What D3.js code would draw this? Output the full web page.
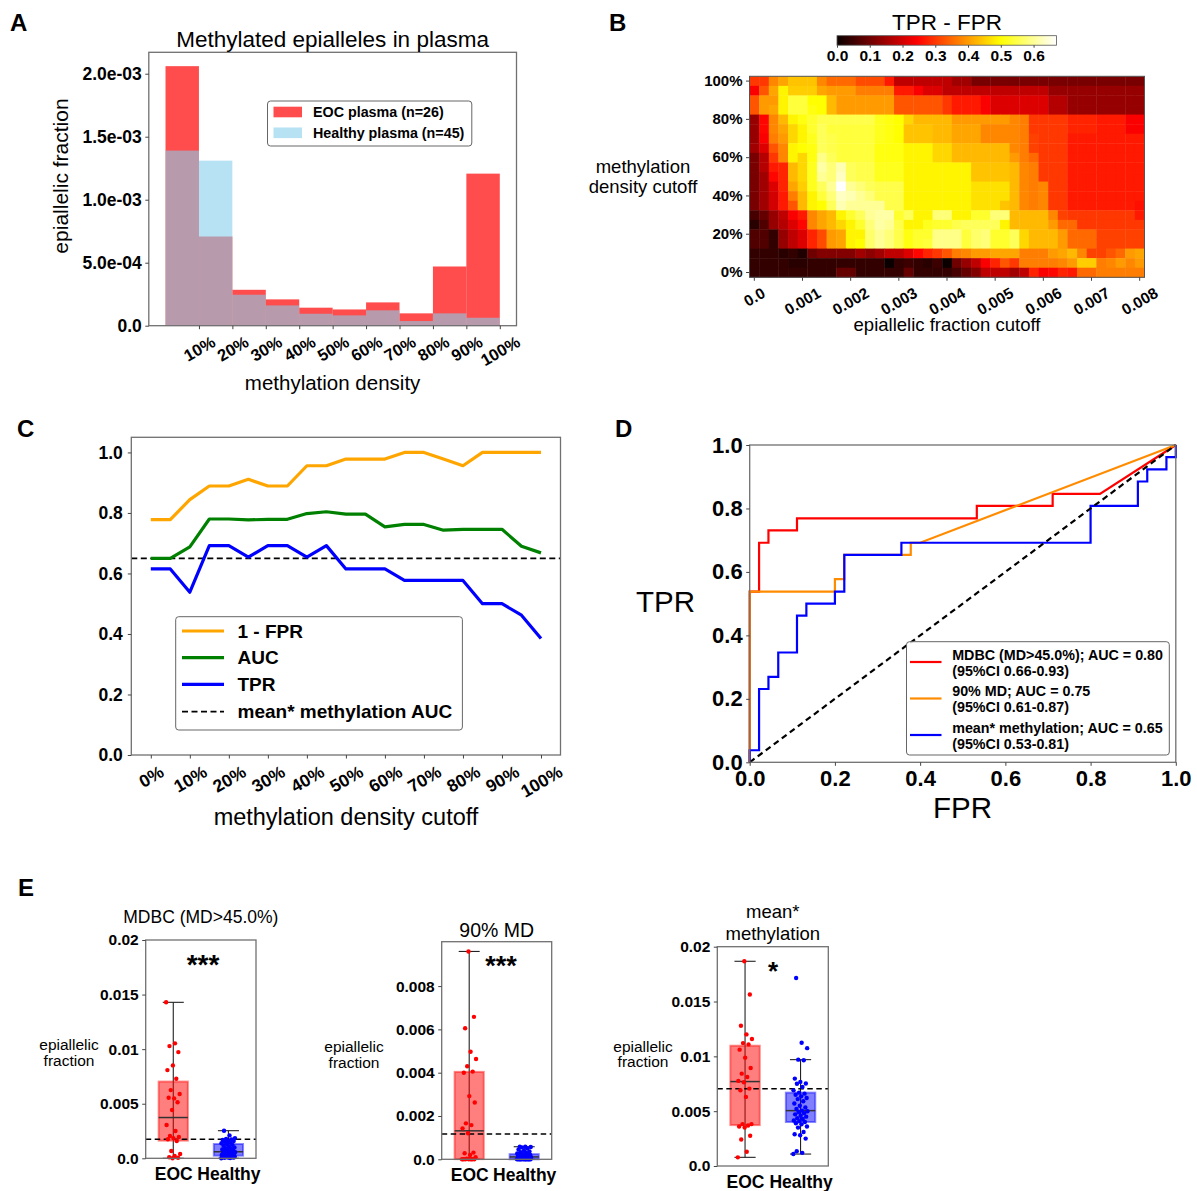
<!DOCTYPE html>
<html><head><meta charset="utf-8">
<script src="https://cdn.jsdelivr.net/npm/d3@7"></script>
<style>body{margin:0;background:#fff}</style>
</head><body>
<script>
// ================= DATA =================
// Panel A: histogram of methylation density
const densityBinStart = [0,10,20,30,40,50,60,70,80,90];
const eocHist     = [2.06e-3,0.708e-3,0.285e-3,0.209e-3,0.143e-3,0.129e-3,0.185e-3,0.098e-3,0.47e-3,1.207e-3];
const healthyHist = [1.39e-3,1.31e-3,0.246e-3,0.161e-3,0.095e-3,0.082e-3,0.122e-3,0.037e-3,0.098e-3,0.063e-3];
const densityTickPos = [10,20,30,40,50,60,70,80,90,100];
const densityTickLabels = ["10%","20%","30%","40%","50%","60%","70%","80%","90%","100%"];
const histYTicks = [0,5e-4,1e-3,1.5e-3,2e-3];
const histYTickLabels = ["0.0","5.0e-04","1.0e-03","1.5e-03","2.0e-03"];

// Panel B: TPR - FPR heatmap (rows: methylation density cutoff 100% -> 0%; cols: epiallelic fraction cutoff)
const efCutoffs = [0,0.0002,0.0004,0.0006,0.0008,0.001,0.0012,0.0014,0.0016,0.0018,0.002,0.0022,0.0024,0.0026,0.0028,0.003,0.0032,0.0034,0.0036,0.0038,0.004,0.0042,0.0044,0.0046,0.0048,0.005,0.0052,0.0054,0.0056,0.0058,0.006,0.0062,0.0064,0.0066,0.0068,0.007,0.0072,0.0074,0.0076,0.0078,0.008];
const efTickLabels = ["0.0","0.001","0.002","0.003","0.004","0.005","0.006","0.007","0.008"];
const mdCutoffs = [100,95,90,85,80,75,70,65,60,55,50,45,40,35,30,25,20,15,10,5,0];
const mdTickLabels = ["100%","80%","60%","40%","20%","0%"];
const tprMinusFpr = [
[0.30,0.30,0.38,0.41,0.44,0.44,0.44,0.38,0.35,0.35,0.35,0.32,0.32,0.32,0.27,0.18,0.18,0.18,0.18,0.18,0.18,0.15,0.15,0.11,0.11,0.11,0.11,0.11,0.11,0.11,0.11,0.11,0.11,0.11,0.11,0.11,0.11,0.11,0.11,0.11,0.11],
[0.24,0.33,0.41,0.49,0.45,0.45,0.45,0.41,0.40,0.40,0.40,0.37,0.37,0.37,0.37,0.27,0.27,0.24,0.21,0.21,0.18,0.18,0.18,0.18,0.18,0.18,0.18,0.18,0.18,0.18,0.18,0.14,0.14,0.14,0.14,0.14,0.14,0.14,0.14,0.14,0.14],
[0.33,0.40,0.40,0.49,0.54,0.54,0.50,0.50,0.43,0.40,0.40,0.40,0.40,0.40,0.40,0.33,0.33,0.33,0.33,0.33,0.30,0.27,0.27,0.27,0.24,0.21,0.21,0.21,0.21,0.21,0.21,0.17,0.17,0.14,0.14,0.14,0.14,0.14,0.14,0.14,0.14],
[0.33,0.40,0.41,0.49,0.54,0.54,0.51,0.50,0.43,0.40,0.40,0.40,0.40,0.40,0.40,0.33,0.33,0.33,0.33,0.33,0.30,0.27,0.27,0.27,0.24,0.21,0.21,0.21,0.21,0.21,0.21,0.17,0.17,0.14,0.14,0.14,0.14,0.14,0.14,0.14,0.14],
[0.14,0.25,0.38,0.43,0.49,0.51,0.53,0.55,0.55,0.55,0.55,0.55,0.55,0.52,0.51,0.50,0.46,0.43,0.43,0.43,0.43,0.40,0.40,0.40,0.40,0.40,0.40,0.38,0.37,0.30,0.30,0.30,0.30,0.28,0.28,0.28,0.27,0.27,0.27,0.24,0.24],
[0.14,0.25,0.38,0.41,0.46,0.49,0.53,0.56,0.54,0.54,0.54,0.54,0.54,0.52,0.51,0.50,0.44,0.44,0.44,0.43,0.43,0.41,0.41,0.41,0.38,0.38,0.38,0.38,0.37,0.30,0.30,0.30,0.30,0.28,0.28,0.28,0.27,0.27,0.27,0.24,0.24],
[0.14,0.24,0.37,0.40,0.46,0.49,0.52,0.56,0.55,0.54,0.54,0.54,0.54,0.52,0.51,0.50,0.44,0.44,0.44,0.43,0.43,0.41,0.41,0.41,0.38,0.38,0.38,0.38,0.37,0.31,0.30,0.30,0.30,0.27,0.27,0.27,0.27,0.27,0.27,0.27,0.27],
[0.15,0.21,0.33,0.38,0.49,0.50,0.51,0.56,0.55,0.54,0.54,0.54,0.54,0.51,0.51,0.51,0.49,0.49,0.49,0.46,0.46,0.43,0.43,0.43,0.43,0.43,0.43,0.38,0.37,0.31,0.30,0.30,0.30,0.27,0.27,0.27,0.27,0.27,0.27,0.27,0.27],
[0.11,0.17,0.30,0.38,0.49,0.46,0.51,0.59,0.56,0.54,0.54,0.54,0.54,0.51,0.51,0.51,0.49,0.49,0.49,0.46,0.46,0.43,0.43,0.43,0.43,0.43,0.43,0.40,0.37,0.35,0.30,0.30,0.30,0.27,0.27,0.27,0.27,0.27,0.27,0.27,0.27],
[0.11,0.17,0.27,0.28,0.43,0.46,0.52,0.61,0.58,0.62,0.56,0.55,0.55,0.52,0.52,0.52,0.49,0.49,0.49,0.49,0.49,0.49,0.49,0.44,0.44,0.44,0.44,0.43,0.38,0.37,0.30,0.30,0.30,0.27,0.27,0.27,0.27,0.27,0.27,0.27,0.27],
[0.11,0.15,0.25,0.28,0.43,0.46,0.52,0.60,0.58,0.63,0.56,0.55,0.55,0.52,0.52,0.52,0.49,0.49,0.49,0.49,0.49,0.49,0.49,0.44,0.44,0.44,0.44,0.43,0.38,0.37,0.30,0.30,0.30,0.27,0.27,0.27,0.27,0.27,0.27,0.27,0.27],
[0.11,0.15,0.21,0.28,0.41,0.45,0.52,0.56,0.60,0.67,0.60,0.58,0.56,0.55,0.55,0.55,0.49,0.49,0.49,0.49,0.49,0.49,0.49,0.47,0.47,0.47,0.47,0.43,0.38,0.37,0.38,0.30,0.30,0.27,0.27,0.27,0.27,0.27,0.27,0.27,0.27],
[0.11,0.15,0.20,0.27,0.37,0.43,0.49,0.54,0.58,0.63,0.62,0.60,0.58,0.55,0.55,0.55,0.49,0.49,0.49,0.49,0.49,0.49,0.49,0.47,0.47,0.47,0.47,0.43,0.38,0.37,0.38,0.30,0.30,0.27,0.27,0.27,0.27,0.27,0.27,0.27,0.27],
[0.11,0.15,0.20,0.27,0.33,0.43,0.49,0.50,0.56,0.62,0.60,0.60,0.60,0.60,0.55,0.55,0.49,0.49,0.49,0.49,0.49,0.49,0.49,0.47,0.47,0.47,0.44,0.43,0.38,0.37,0.38,0.30,0.30,0.27,0.27,0.27,0.27,0.27,0.27,0.27,0.26],
[0.06,0.09,0.14,0.18,0.24,0.27,0.38,0.41,0.43,0.49,0.53,0.56,0.60,0.61,0.61,0.53,0.56,0.49,0.49,0.58,0.58,0.49,0.49,0.53,0.53,0.58,0.58,0.43,0.43,0.43,0.43,0.38,0.31,0.30,0.30,0.30,0.30,0.30,0.30,0.30,0.27],
[0.03,0.07,0.14,0.17,0.21,0.25,0.38,0.41,0.43,0.46,0.49,0.53,0.58,0.61,0.60,0.55,0.49,0.49,0.52,0.53,0.53,0.55,0.56,0.56,0.56,0.56,0.49,0.43,0.43,0.43,0.43,0.40,0.35,0.35,0.30,0.30,0.30,0.30,0.30,0.30,0.30],
[0.07,0.07,0.04,0.14,0.18,0.21,0.28,0.32,0.40,0.41,0.49,0.49,0.57,0.60,0.58,0.55,0.51,0.53,0.53,0.59,0.59,0.59,0.54,0.57,0.58,0.53,0.53,0.56,0.46,0.43,0.43,0.43,0.40,0.35,0.35,0.35,0.31,0.31,0.31,0.31,0.31],
[0.07,0.07,0.04,0.14,0.18,0.21,0.28,0.32,0.40,0.41,0.49,0.50,0.57,0.60,0.58,0.55,0.51,0.53,0.54,0.59,0.59,0.59,0.54,0.57,0.58,0.53,0.53,0.56,0.46,0.43,0.43,0.43,0.40,0.35,0.35,0.35,0.31,0.31,0.31,0.31,0.31],
[0.04,0.04,0.04,0.03,0.04,0.02,0.10,0.12,0.12,0.12,0.12,0.15,0.13,0.15,0.18,0.18,0.21,0.25,0.28,0.30,0.33,0.37,0.38,0.40,0.40,0.41,0.41,0.41,0.37,0.37,0.37,0.40,0.41,0.43,0.38,0.31,0.31,0.33,0.35,0.40,0.41],
[0.04,0.04,0.04,0.04,0.03,0.03,0.04,0.04,0.04,0.04,0.04,0.04,0.04,0.04,0.00,0.04,0.05,0.04,0.03,0.05,0.00,0.10,0.14,0.18,0.24,0.28,0.33,0.30,0.37,0.37,0.37,0.37,0.38,0.40,0.45,0.45,0.37,0.38,0.40,0.38,0.40],
[0.04,0.04,0.04,0.04,0.04,0.04,0.04,0.04,0.04,0.09,0.09,0.04,0.04,0.04,0.04,0.04,0.09,0.04,0.04,0.04,0.04,0.06,0.09,0.12,0.18,0.18,0.18,0.15,0.18,0.28,0.24,0.25,0.28,0.27,0.35,0.35,0.37,0.37,0.37,0.37,0.37]
];
const colorbarTicks = [0,0.1,0.2,0.3,0.4,0.5,0.6];

// Panel C: metrics vs methylation density cutoff
const mdCutoffPct = [0,5,10,15,20,25,30,35,40,45,50,55,60,65,70,75,80,85,90,95,100];
const oneMinusFpr = [0.778,0.778,0.844,0.889,0.889,0.911,0.889,0.889,0.956,0.956,0.978,0.978,0.978,1.0,1.0,0.978,0.956,1.0,1.0,1.0,1.0];
const aucVals     = [0.65,0.65,0.688,0.78,0.78,0.777,0.779,0.779,0.798,0.804,0.796,0.796,0.754,0.762,0.762,0.743,0.746,0.746,0.746,0.69,0.668];
const tprVals     = [0.615,0.615,0.538,0.692,0.692,0.654,0.692,0.692,0.654,0.692,0.615,0.615,0.615,0.577,0.577,0.577,0.577,0.5,0.5,0.462,0.385];
const meanMethAuc = 0.65;
const cTickPos = [0,10,20,30,40,50,60,70,80,90,100];
const cTickLabels = ["0%","10%","20%","30%","40%","50%","60%","70%","80%","90%","100%"];

// Panel D: ROC curves [FPR, TPR]
const rocMdbc = [[0,0],[0,0.538],[0.022,0.538],[0.022,0.692],[0.044,0.692],[0.044,0.731],[0.111,0.731],[0.111,0.769],[0.533,0.769],[0.533,0.808],[0.711,0.808],[0.711,0.846],[0.822,0.846],[1,1]];
const rocMd90 = [[0,0],[0,0.538],[0.2,0.538],[0.2,0.577],[0.222,0.577],[0.222,0.654],[0.378,0.654],[0.378,0.692],[0.4,0.692],[1,1]];
const rocMean = [[0,0],[0,0.038],[0.022,0.038],[0.022,0.231],[0.044,0.231],[0.044,0.269],[0.067,0.269],[0.067,0.346],[0.111,0.346],[0.111,0.462],[0.133,0.462],[0.133,0.5],[0.2,0.5],[0.2,0.538],[0.222,0.538],[0.222,0.654],[0.356,0.654],[0.356,0.692],[0.8,0.692],[0.8,0.808],[0.911,0.808],[0.911,0.885],[0.933,0.885],[0.933,0.923],[0.978,0.923],[0.978,0.962],[1,0.962],[1,1]];
const rocLegend = [["MDBC (MD>45.0%); AUC = 0.80","(95%CI 0.66-0.93)"],["90% MD; AUC = 0.75","(95%CI 0.61-0.87)"],["mean* methylation; AUC = 0.65","(95%CI 0.53-0.81)"]];

// Panel E: per-sample epiallelic fractions
const groups = ["EOC","Healthy"];
const e1Eoc = [0.01429,0.01053,0.01028,0.00973,0.00851,0.00808,0.00729,0.00625,0.00589,0.00549,0.00555,0.00513,0.00442,0.00305,0.0025,0.00204,0.00195,0.00185,0.00174,0.00158,0.00067,0.00039,0.00021,0.0001,0.00005,0.0];
const e1Healthy = [0.0,0.00002,0.00004,0.00006,0.00008,0.0001,0.00012,0.00014,0.00016,0.00019,0.00022,0.00024,0.00027,0.0003,0.00033,0.00036,0.0004,0.00043,0.00046,0.0005,0.00053,0.00057,0.0006,0.00064,0.00069,0.00074,0.0008,0.00086,0.00093,0.001,0.00108,0.00115,0.00123,0.00131,0.00138,0.00145,0.00152,0.00158,0.00163,0.00168,0.00172,0.00178,0.00185,0.0021,0.00253];
const e1Threshold = 0.00174;
const e2Eoc = [0,0,0,0,0,0,0,0.00003,0.0001,0.0002,0.00028,0.00031,0.0012,0.00143,0.00158,0.00166,0.00262,0.00292,0.004,0.00405,0.0043,0.00463,0.00497,0.00605,0.00658,0.0096];
const e2Healthy = [0,0,0,0,0,0,0,0,0,0,0,0,0.00001,0.00002,0.00002,0.00004,0.00005,0.00006,0.00007,0.00008,0.00009,0.0001,0.00011,0.00012,0.00013,0.00015,0.00016,0.00018,0.00019,0.0002,0.00021,0.00022,0.00023,0.00024,0.00027,0.0003,0.00033,0.00036,0.0004,0.00045,0.0005,0.00055,0.00057,0.00058,0.00058];
const e2Threshold = 0.00117;
const e3Eoc = [0.00079,0.0013,0.00242,0.00276,0.0035,0.0036,0.0037,0.00382,0.00382,0.0063,0.00691,0.00706,0.00764,0.00776,0.00812,0.00842,0.00894,0.00988,0.01061,0.01109,0.01121,0.01158,0.012,0.01279,0.01564,0.01867];
const e3Healthy = [0.00109,0.0012,0.00135,0.0025,0.0028,0.0029,0.0031,0.0035,0.0036,0.0038,0.0039,0.00401,0.00408,0.00415,0.00428,0.00436,0.0045,0.00458,0.00471,0.00482,0.00493,0.005,0.00505,0.0052,0.00534,0.0055,0.0057,0.0059,0.0061,0.0062,0.00635,0.0065,0.0066,0.00669,0.0069,0.0072,0.0075,0.00752,0.00767,0.00797,0.00964,0.0097,0.01075,0.01124,0.01715];
const e3Threshold = 0.00705;

// ================= DRAWING =================
const FONT = "'Liberation Sans', Arial, Helvetica, sans-serif";
const svg = d3.select("body").append("svg").attr("width",1197).attr("height",1191);
svg.append("rect").attr("width",1197).attr("height",1191).attr("fill","#fff");

function txt(x,y,s,size,o={}){
  return svg.append("text").attr("x",x).attr("y",y).text(s)
    .attr("font-family",FONT).attr("font-size",size)
    .attr("font-weight",o.bold?"bold":"normal")
    .attr("text-anchor",o.anchor||"start").attr("fill","#000");
}
function frame(x0,y0,x1,y1){
  svg.append("rect").attr("x",x0).attr("y",y0).attr("width",x1-x0).attr("height",y1-y0)
    .attr("fill","none").attr("stroke","#707070").attr("stroke-width",1.3);
}
function styleAx(g,size){
  g.select(".domain").remove();
  g.selectAll(".tick line").attr("stroke","#444").attr("stroke-width",1);
  g.selectAll(".tick text").attr("font-family",FONT).attr("font-size",size).attr("font-weight","bold").attr("fill","#000");
}
function leftAxis(scale,x,vals,labels,size,pad){
  const ax = d3.axisLeft(scale).tickValues(vals).tickFormat((d,i)=>labels[i]).tickSize(3.5).tickPadding(pad||3.5);
  const g = svg.append("g").attr("transform",`translate(${x},0)`).call(ax);
  styleAx(g,size); return g;
}
function bottomAxis(scale,y,vals,labels,size,rot,pad){
  pad = pad||3.5;
  const ax = d3.axisBottom(scale).tickValues(vals).tickFormat((d,i)=>labels[i]).tickSize(3.5).tickPadding(pad);
  const g = svg.append("g").attr("transform",`translate(0,${y})`).call(ax);
  styleAx(g,size);
  if(rot){
    const a = rot*Math.PI/180;
    g.selectAll(".tick text").each(function(){
      const w = this.getComputedTextLength();
      const h = size*1.15;
      const H = w*Math.sin(a)+h*Math.cos(a);
      d3.select(this).attr("y",null).attr("dy","0.35em").attr("text-anchor","middle")
        .attr("transform",`translate(0,${3.5+pad+H/2}) rotate(${-rot})`);
    });
  }
  return g;
}
function legendBox(x0,y0,x1,y1){
  svg.append("rect").attr("x",x0).attr("y",y0).attr("width",x1-x0).attr("height",y1-y0)
    .attr("rx",3).attr("fill","#fff").attr("fill-opacity",0.85).attr("stroke","#666").attr("stroke-width",1);
}

// ---------- Panel A ----------
txt(10,31,"A",24,{bold:true});
const xA = d3.scaleLinear().domain([-5,105]).range([148.8,516.5]);
const yA = d3.scaleLinear().domain([0,2.17e-3]).range([325.7,52.3]);
svg.append("g").selectAll("rect").data(eocHist).join("rect")
  .attr("x",(d,i)=>xA(densityBinStart[i])).attr("width",(d,i)=>xA(densityBinStart[i]+10)-xA(densityBinStart[i]))
  .attr("y",d=>yA(d)).attr("height",d=>yA(0)-yA(d)).attr("fill","#ff0000").attr("fill-opacity",0.7);
svg.append("g").selectAll("rect").data(healthyHist).join("rect")
  .attr("x",(d,i)=>xA(densityBinStart[i])).attr("width",(d,i)=>xA(densityBinStart[i]+10)-xA(densityBinStart[i]))
  .attr("y",d=>yA(d)).attr("height",d=>yA(0)-yA(d)).attr("fill","#87ceeb").attr("fill-opacity",0.6);
frame(148.8,52.3,516.5,325.7);
leftAxis(yA,148.8,histYTicks,histYTickLabels,17.5,3.5);
bottomAxis(xA,325.7,densityTickPos,densityTickLabels,16.5,30,3);
txt(332.6,47,"Methylated epialleles in plasma",22.5,{anchor:"middle"});
txt(332.6,390,"methylation density",20.5,{anchor:"middle"});
svg.append("text").text("epiallelic fraction").attr("font-family",FONT).attr("font-size",21)
  .attr("text-anchor","middle").attr("transform","translate(68,176) rotate(-90)");
legendBox(267.5,101,471.8,146);
svg.append("rect").attr("x",273.5).attr("y",106.7).attr("width",28.5).attr("height",10.6).attr("fill","#ff0000").attr("fill-opacity",0.7);
svg.append("rect").attr("x",273.5).attr("y",127.5).attr("width",28.5).attr("height",10.6).attr("fill","#87ceeb").attr("fill-opacity",0.6);
txt(313,117.2,"EOC plasma (n=26)",14.3,{bold:true});
txt(313,138,"Healthy plasma (n=45)",14.3,{bold:true});

// ---------- Panel B ----------
txt(609,31,"B",24,{bold:true});
const allVals = tprMinusFpr.flat();
const vmax = d3.max(allVals);
function hot(v){
  const f = Math.max(0,Math.min(1,v/vmax));
  const r = f<0.365079 ? 0.0416+(1-0.0416)*f/0.365079 : 1;
  const g = Math.max(0,Math.min(1,(f-0.365079)/(0.746032-0.365079)));
  const b = Math.max(0,Math.min(1,(f-0.746032)/(1-0.746032)));
  return d3.rgb(r*255,g*255,b*255).toString();
}
const xB = d3.scaleBand().domain(efCutoffs).range([749.5,1144.5]);
const yB = d3.scaleBand().domain(mdCutoffs).range([76.3,277.3]);
const cells = [];
tprMinusFpr.forEach((row,ri)=>row.forEach((v,ci)=>cells.push({md:mdCutoffs[ri],ef:efCutoffs[ci],v})));
svg.append("g").selectAll("rect").data(cells).join("rect")
  .attr("x",d=>xB(d.ef)).attr("y",d=>yB(d.md))
  .attr("width",xB.bandwidth()+0.4).attr("height",yB.bandwidth()+0.4)
  .attr("fill",d=>hot(d.v));
svg.append("rect").attr("x",749.5).attr("y",76.3).attr("width",395).attr("height",201)
  .attr("fill","none").attr("stroke","#555").attr("stroke-width",1);
leftAxis(yB,749.5,mdCutoffs.filter(d=>d%20===0),mdTickLabels,15,3.5);
bottomAxis(xB,277.3,efCutoffs.filter((d,i)=>i%5===0),efTickLabels,15.5,30,3);
txt(947,331,"epiallelic fraction cutoff",18.5,{anchor:"middle"});
txt(643,173,"methylation",18.5,{anchor:"middle"});
txt(643,193,"density cutoff",18.5,{anchor:"middle"});
// colorbar
txt(947,30,"TPR - FPR",22.5,{anchor:"middle"});
const xCb = d3.scaleLinear().domain([0,vmax]).range([837,1056.5]);
const grad = svg.append("defs").append("linearGradient").attr("id","hotgrad");
d3.range(0,1.0001,0.02).forEach(t=>grad.append("stop").attr("offset",t).attr("stop-color",hot(t*vmax)));
svg.append("rect").attr("x",837).attr("y",35.7).attr("width",219.5).attr("height",9.5).attr("fill","url(#hotgrad)")
  .attr("stroke","#555").attr("stroke-width",0.8);
const cbAx = d3.axisBottom(xCb).tickValues(colorbarTicks).tickFormat(d3.format(".1f")).tickSize(2.5).tickPadding(2.5);
const cbG = svg.append("g").attr("transform","translate(0,45.2)").call(cbAx);
styleAx(cbG,15.5);

// ---------- Panel C ----------
txt(17,437,"C",24,{bold:true});
const xC = d3.scaleLinear().domain([-5,105]).range([131.3,560.5]);
const yC = d3.scaleLinear().domain([0,1.05]).range([755,437.3]);
svg.append("line").attr("x1",131.3).attr("x2",560.5).attr("y1",yC(meanMethAuc)).attr("y2",yC(meanMethAuc))
  .attr("stroke","#000").attr("stroke-width",1.8).attr("stroke-dasharray","6,3.5");
const lineC = vals => d3.line().x((d,i)=>xC(mdCutoffPct[i])).y(d=>yC(d))(vals);
[[oneMinusFpr,"#ffa500"],[aucVals,"#008000"],[tprVals,"#0000ff"]].forEach(([v,c])=>{
  svg.append("path").attr("d",lineC(v)).attr("fill","none").attr("stroke",c).attr("stroke-width",3.2).attr("stroke-linejoin","round");
});
frame(131.3,437.3,560.5,755);
leftAxis(yC,131.3,[0,0.2,0.4,0.6,0.8,1.0],["0.0","0.2","0.4","0.6","0.8","1.0"],17.5,5);
bottomAxis(xC,755,cTickPos,cTickLabels,17.5,30,3);
txt(346,825,"methylation density cutoff",23.5,{anchor:"middle"});
legendBox(175.7,616.7,462.4,730);
[["1 - FPR","#ffa500",null,631],["AUC","#008000",null,657.7],["TPR","#0000ff",null,684.3],["mean* methylation AUC","#000","6,3.5",711.7]].forEach(([lab,c,da,y])=>{
  svg.append("line").attr("x1",182).attr("x2",224).attr("y1",y).attr("y2",y).attr("stroke",c)
    .attr("stroke-width",da?1.8:3.2).attr("stroke-dasharray",da);
  txt(237.5,y+6.5,lab,19,{bold:true});
});

// ---------- Panel D ----------
txt(615,437,"D",24,{bold:true});
const xD = d3.scaleLinear().domain([0,1]).range([749.7,1175.8]);
const yD = d3.scaleLinear().domain([0,1]).range([762.3,445]);
const lineD = d3.line().x(d=>xD(d[0])).y(d=>yD(d[1]));
[[rocMdbc,"#ff0000"],[rocMd90,"#ff8c00"],[rocMean,"#0000ff"]].forEach(([pts,c])=>{
  svg.append("path").attr("d",lineD(pts)).attr("fill","none").attr("stroke",c).attr("stroke-width",2.2);
});
svg.append("line").attr("x1",xD(0)).attr("y1",yD(0)).attr("x2",xD(1)).attr("y2",yD(1))
  .attr("stroke","#000").attr("stroke-width",2.2).attr("stroke-dasharray","6,4");
frame(749.7,445,1175.8,762.3);
leftAxis(yD,749.7,[0,0.2,0.4,0.6,0.8,1.0],["0.0","0.2","0.4","0.6","0.8","1.0"],22,3.5);
bottomAxis(xD,762.3,[0,0.2,0.4,0.6,0.8,1.0],["0.0","0.2","0.4","0.6","0.8","1.0"],22,0,4.5);
txt(665.5,612,"TPR",29.5,{anchor:"middle"});
txt(962.6,818,"FPR",29.5,{anchor:"middle"});
legendBox(906.5,641.7,1169.3,755);
const legYs = [659.5,696,732.5];
[["#ff0000"],["#ff8c00"],["#0000ff"]].forEach(([c],i)=>{
  const y = legYs[i];
  svg.append("line").attr("x1",910).attr("x2",941.5).attr("y1",y+2.5).attr("y2",y+2.5).attr("stroke",c).attr("stroke-width",2.2);
  txt(952.2,y,rocLegend[i][0],14.3,{bold:true});
  txt(952.2,y+16,rocLegend[i][1],14.3,{bold:true});
});

// ---------- Panel E ----------
txt(18,896,"E",24,{bold:true});
function boxPanel(c){
  const x = d3.scalePoint().domain(groups).range([c.x0+(c.x1-c.x0)*0.25,c.x0+(c.x1-c.x0)*0.75]);
  const y = d3.scaleLinear().domain([0,c.ymax]).range([c.y1,c.y0]);
  const step = x.step();
  const bw = step*0.53;
  [[c.eoc,"#ff0000","EOC"],[c.healthy,"#0000ff","Healthy"]].forEach(([vals,col,grp])=>{
    const s = vals.slice().sort(d3.ascending);
    const q1 = d3.quantileSorted(s,0.25), med = d3.quantileSorted(s,0.5), q3 = d3.quantileSorted(s,0.75);
    const iqr = q3-q1;
    const hi = d3.max(s.filter(v=>v<=q3+1.5*iqr)), lo = d3.min(s.filter(v=>v>=q1-1.5*iqr));
    const cx = x(grp);
    svg.append("line").attr("x1",cx).attr("x2",cx).attr("y1",y(lo)).attr("y2",y(hi)).attr("stroke","#222").attr("stroke-width",1.1);
    [lo,hi].forEach(v=>svg.append("line").attr("x1",cx-bw*0.36).attr("x2",cx+bw*0.36).attr("y1",y(v)).attr("y2",y(v)).attr("stroke","#222").attr("stroke-width",1.1));
    svg.append("rect").attr("x",cx-bw/2).attr("y",y(q3)).attr("width",bw).attr("height",Math.max(0.5,y(q1)-y(q3)))
      .attr("fill",col).attr("fill-opacity",0.5).attr("stroke",col).attr("stroke-opacity",0.45).attr("stroke-width",2);
    svg.append("line").attr("x1",cx-bw/2).attr("x2",cx+bw/2).attr("y1",y(med)).attr("y2",y(med)).attr("stroke","#333").attr("stroke-width",1.5);
    c["_pts_"+grp] = {vals,col,cx};
  });
  svg.append("line").attr("x1",c.x0).attr("x2",c.x1).attr("y1",y(c.thr)).attr("y2",y(c.thr))
    .attr("stroke","#000").attr("stroke-width",1.6).attr("stroke-dasharray","5.5,3.5");
  groups.forEach(grp=>{
    const p = c["_pts_"+grp];
    svg.append("g").selectAll("circle").data(p.vals).join("circle")
      .attr("cx",(d,i)=>p.cx+(((i*0.6180339887)%1)-0.5)*step*0.26)
      .attr("cy",d=>y(d)).attr("r",2.2).attr("fill",p.col);
  });
  frame(c.x0,c.y0,c.x1,c.y1);
  leftAxis(y,c.x0,c.ticks,c.tickLabels,15.5,3.5);
  const gx = bottomAxis(x,c.y1,groups,groups,17.5,0,3.5);
  gx.selectAll(".tick line").remove();
  gx.selectAll(".tick text").attr("y",null).attr("dy",null).attr("transform",`translate(0,${c.catY-c.y1})`);
  const cxm = (c.x0+c.x1)/2;
  c.title.forEach((t,i)=>txt(cxm,c.titleY[i],t,c.titleSize,{anchor:"middle"}));
  txt(c.sigX,c.sigY,c.sig,c.sigSize,{anchor:"middle",bold:true});
  txt(c.ylabX,c.ylabY[0],"epiallelic",15.5,{anchor:"middle"});
  txt(c.ylabX,c.ylabY[1],"fraction",15.5,{anchor:"middle"});
}
boxPanel({x0:145.7,x1:256,y0:940,y1:1158.3,ymax:0.02,ticks:[0,0.005,0.01,0.015,0.02],tickLabels:["0.0","0.005","0.01","0.015","0.02"],
  eoc:e1Eoc,healthy:e1Healthy,thr:e1Threshold,title:["MDBC (MD>45.0%)"],titleSize:17.5,titleY:[923.3],
  sig:"***",sigSize:28,sigX:203,sigY:973.5,ylabX:69,ylabY:[1050,1066],catY:1180});
boxPanel({x0:441.7,x1:551.7,y0:941.7,y1:1159.3,ymax:0.01005,ticks:[0,0.002,0.004,0.006,0.008],tickLabels:["0.0","0.002","0.004","0.006","0.008"],
  eoc:e2Eoc,healthy:e2Healthy,thr:e2Threshold,title:["90% MD"],titleSize:19.5,titleY:[936.7],
  sig:"***",sigSize:27,sigX:501,sigY:975,ylabX:354,ylabY:[1052,1068],catY:1181});
boxPanel({x0:717.3,x1:828.3,y0:946.7,y1:1166,ymax:0.02,ticks:[0,0.005,0.01,0.015,0.02],tickLabels:["0.0","0.005","0.01","0.015","0.02"],
  eoc:e3Eoc,healthy:e3Healthy,thr:e3Threshold,title:["mean*","methylation"],titleSize:18.5,titleY:[918,940],
  sig:"*",sigSize:26,sigX:773,sigY:980,ylabX:643,ylabY:[1052,1067],catY:1188});
</script>
</body></html>
